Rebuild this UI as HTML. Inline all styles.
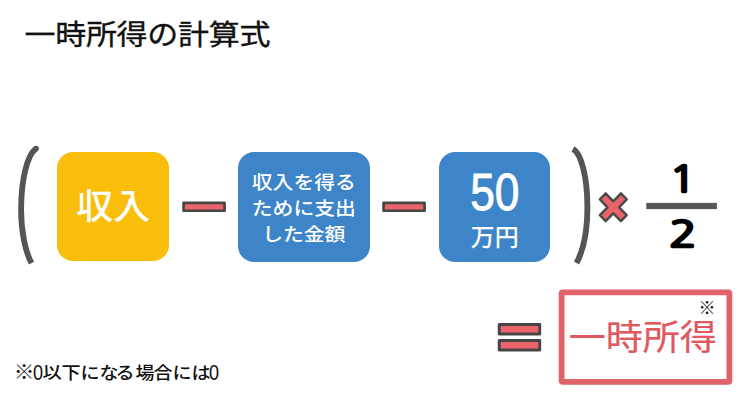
<!DOCTYPE html>
<html lang="ja">
<head>
<meta charset="utf-8">
<title>一時所得の計算式</title>
<style>
html,body{margin:0;padding:0;background:#fff;}
body{width:739px;height:415px;position:relative;overflow:hidden;font-family:"Liberation Sans","Noto Sans CJK JP",sans-serif;}
.abs{position:absolute;}
.title{left:24.5px;top:16.9px;font-size:31px;line-height:40px;color:#111;white-space:nowrap;font-weight:400;-webkit-text-stroke:0.35px #111;letter-spacing:-0.3px;transform:scaleY(.935);transform-origin:0 0;}
.box{position:absolute;border-radius:16px;color:#fff;text-align:center;}
.yellow{left:57px;top:152.2px;width:112.3px;height:109.2px;background:#f9be0b;font-size:37px;line-height:112px;font-weight:500;}
.blue1{left:238.2px;top:152.3px;width:131.6px;height:109.5px;background:#3d85c8;font-size:20px;line-height:25.5px;font-weight:500;}
.blue2{left:438.9px;top:152.3px;width:111.6px;height:109.5px;background:#3d85c8;}
.note{left:0;top:360px;font-size:18px;line-height:26px;color:#111;white-space:nowrap;font-weight:500;}
.note span{position:absolute;top:0;width:20px;text-align:center;transform:scale(1.06,.95);}
.restxt{left:568.7px;top:313.9px;font-size:37px;line-height:50px;color:#e0595f;white-space:nowrap;font-weight:400;-webkit-text-stroke:0.25px #e0595f;transform:scaleY(.95);}
</style>
</head>
<body>
<div class="abs title">一時所得の計算式</div>

<svg class="abs" style="left:0;top:0" width="739" height="415" viewBox="0 0 739 415">
  <path d="M36 148.6 C 27 155, 21.1 180, 21.1 210 C 21.1 232, 25.5 252, 31.5 263.2" fill="none" stroke="#555" stroke-width="5.8"/>
  <circle cx="36" cy="148.6" r="2.9" fill="#555"/>
  <path d="M573 148.9 C 581.5 153.8, 587.4 178, 587.4 207 C 587.4 232, 582.5 252, 576.5 263" fill="none" stroke="#555" stroke-width="5.9"/>
  <rect x="182.2" y="201.6" width="43.7" height="10.5" rx="1.4" fill="#464646"/>
  <rect x="184.9" y="204.3" width="38.3" height="5.1" rx="0.6" fill="#e8636a"/>
  <rect x="382.2" y="201.6" width="43.7" height="10.5" rx="1.4" fill="#464646"/>
  <rect x="384.9" y="204.3" width="38.3" height="5.1" rx="0.6" fill="#e8636a"/>
  <rect x="497.8" y="323.1" width="43.4" height="12.4" rx="1.4" fill="#464646"/>
  <rect x="500.7" y="326.0" width="37.6" height="6.6" rx="0.6" fill="#e8636a"/>
  <rect x="497.8" y="339.1" width="43.4" height="12.4" rx="1.4" fill="#464646"/>
  <rect x="500.7" y="342.0" width="37.6" height="6.6" rx="0.6" fill="#e8636a"/>
  <rect x="561.6" y="292.3" width="167.8" height="89.6" rx="1.2" fill="none" stroke="#e0626a" stroke-width="5.8" stroke-linejoin="round"/>
  <rect x="646.3" y="202.9" width="70.6" height="6.2" fill="#565656"/>
  <g transform="translate(613.3,207.3) scale(1,1.035) rotate(45)">
    <path d="M-14.9 -4.1 H-4.1 V-14.9 H4.1 V-4.1 H14.9 V4.1 H4.1 V14.9 H-4.1 V4.1 H-14.9 Z" fill="#e8636a" stroke="#4a4a4a" stroke-width="2.4" stroke-linejoin="round"/>
  </g>
  <g style="font-family:'NanumGothic','Liberation Sans',sans-serif;font-weight:400;font-size:36px" fill="#000" stroke="#000" stroke-width="2.6" stroke-linejoin="round" stroke-linecap="round">
    <text transform="translate(669.5,191.5) scale(1.21,1)" x="0" y="0">1</text>
    <text transform="translate(669.3,247.1) scale(1.255,1)" x="0" y="0">2</text>
  </g>
</svg>

<div class="box yellow"><span style="display:inline-block;transform:scaleY(.955)">収入</span></div>
<div class="box blue1"><div style="padding-top:14.05px;line-height:27.8px;transform:translateY(1px) scale(1.04,.93);transform-origin:50% 55.75px">収入を得る<br>ために支出<br>した金額</div></div>
<div class="box blue2"><div style="font-size:51.5px;line-height:50px;padding-top:15px;transform:scaleX(.86);-webkit-text-stroke:0.9px #fff">50</div><div style="font-size:24px;line-height:26px;font-weight:500;padding-top:7.4px">万円</div></div>

<div class="abs restxt">一時所得</div>
<div class="abs" style="left:697px;top:298.5px;font-size:17px;line-height:20px;width:20px;text-align:center;color:#111;font-weight:500">※</div>

<div class="abs note"><span style="left:13.9px;transform:scale(1.15,1.05)">※</span><span style="left:27.9px;font-size:21.5px;transform:scale(.84,1);top:-0.5px">0</span><span style="left:42.0px">以</span><span style="left:61.0px">下</span><span style="left:80.4px">に</span><span style="left:99.3px">な</span><span style="left:114.6px">る</span><span style="left:134.5px">場</span><span style="left:153.2px">合</span><span style="left:172.3px">に</span><span style="left:190.5px">は</span><span style="left:203.5px;font-size:21.5px;transform:scale(.84,1);top:-0.5px">0</span></div>
</body>
</html>
